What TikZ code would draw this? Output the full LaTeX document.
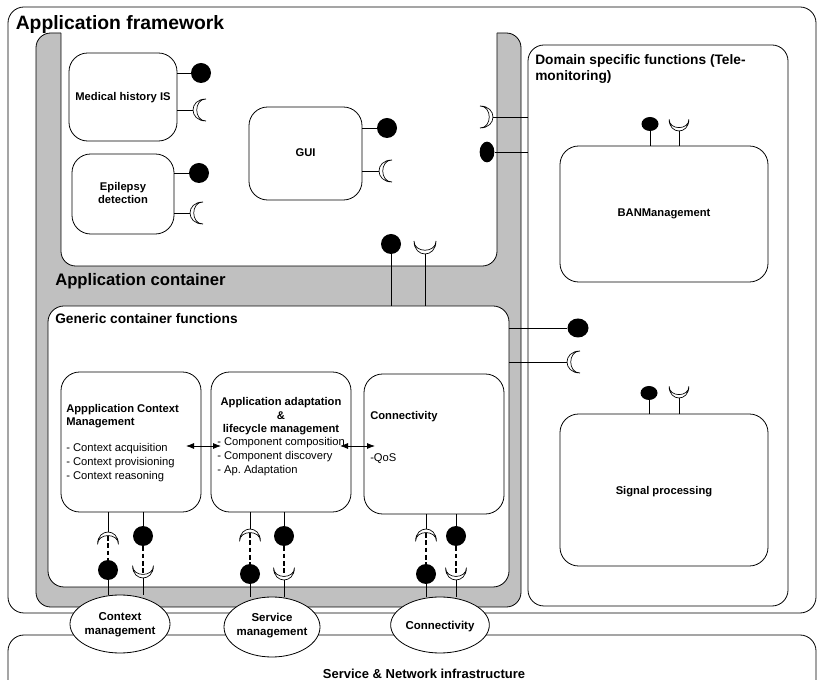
\documentclass[tikz,border=0pt]{standalone}
\usepackage{fontspec}
\setmainfont{Liberation Sans}
\usetikzlibrary{shapes.geometric,fit,arrows.meta}
\definecolor{contgray}{RGB}{192,192,192}
\tikzset{
  fwframe/.style={draw=black, line width=0.6pt, rounded corners=12pt},
  compbox/.style={draw=black, fill=white, line width=0.6pt, rounded corners=14pt, inner sep=0pt},
  ballnode/.style={circle, fill=black, inner sep=0pt, minimum size=15pt},
  ovalball/.style={ellipse, fill=black, inner sep=0pt},
  ifacenode/.style={ellipse, draw=black, fill=white, line width=0.6pt, inner sep=0pt},
  linkline/.style={draw=black, line width=0.6pt},
  dashlink/.style={draw=black, line width=1pt, dash pattern=on 3.5pt off 2pt},
  titletext/.style={anchor=base west, inner sep=0pt, font=\fontsize{14.5pt}{17pt}\selectfont\bfseries},
  subtitletext/.style={anchor=base west, inner sep=0pt, align=left, font=\fontsize{10.3pt}{12pt}\selectfont\bfseries},
  boldtext/.style={inner sep=0pt, align=left, font=\fontsize{8.4pt}{10.2pt}\selectfont\bfseries},
  centertext/.style={anchor=base, inner sep=0pt, align=center, font=\fontsize{8.4pt}{10.2pt}\selectfont\bfseries},
  ifacetext/.style={anchor=base, inner sep=0pt, align=center, font=\fontsize{8.6pt}{10.5pt}\selectfont\bfseries},
  plaintext/.style={inner sep=0pt, align=left, font=\fontsize{8.4pt}{10.5pt}\selectfont},
  twoway/.style={line width=0.6pt, {Latex[length=6pt,width=4.5pt]}-{Latex[length=6pt,width=4.5pt]}},
  sockpic/.pic={\path[draw=black, fill=white, line width=0.5pt] (13,-11) .. controls (-4.3,-11) and (-4.3,11) .. (13,11) .. controls (0.67,11) and (0.67,-11) .. (13,-11) -- cycle;},
}
\begin{document}
\begin{tikzpicture}[x=0.75pt, y=-0.75pt]
\useasboundingbox (0,0) rectangle (818,680);
\fill[white] (0,0) rectangle (818,680);
% frames
\draw[fwframe] (8,7) rectangle (816,613);
\begin{scope}
\clip (0,0) rectangle (818,680);
\draw[fwframe, fill=white] (8,635) rectangle (816,730);
\end{scope}
% application container (gray)
\path[fill=contgray, draw=black, line width=0.6pt, rounded corners=11pt] (36,33) rectangle (521,607);
\fill[white] (61,30) rectangle (497,40);
\path[fill=white, draw=black, line width=0.6pt, rounded corners=11pt] (61,33) -- (61,266) -- (497,266) -- (497,33);
% domain box and generic box
\node[fwframe, fill=white, inner sep=0pt, fit={(528,45) (788,606)}] (dom) {};
\node[fwframe, fill=white, inner sep=0pt, fit={(48,306) (509,587)}] (gen) {};
% titles
\node[titletext] (tfw) at (15.5,30) {Application framework};
\node[titletext, font=\fontsize{12.5pt}{15pt}\selectfont\bfseries] (tac) at (55,286) {Application container};
\node[subtitletext] (tgc) at (55,324) {Generic container functions};
\node[subtitletext] (tds) at (535,81) {Domain specific functions (Tele-\\monitoring)};
% components
\node[compbox, fit={(69,53) (177,141)}] (med) {};
\node[compbox, fit={(72,154) (174,234)}] (epi) {};
\node[compbox, fit={(249,107) (362,200)}] (gui) {};
\node[compbox, fit={(560,146) (768,282)}] (ban) {};
\node[compbox, fit={(560,414) (768,566)}] (sig) {};
\node[compbox, fit={(61,372) (201,512)}] (acm) {};
\node[compbox, fit={(211,372) (351,512)}] (aad) {};
\node[compbox, fit={(364,374) (504,514)}] (cnb) {};
\node[centertext] (medt) at (123,101) {Medical history IS};
\node[centertext] (epit) at (123,204) {Epilepsy\\detection};
\node[centertext] (guit) at (305.5,157) {GUI};
\node[centertext] (bant) at (664,217) {BANManagement};
\node[centertext] (sigt) at (664,495) {Signal processing};
% texts in generic functions
\node[boldtext, anchor=base west] (acmt) at (66,426) {Appplication Context\\Management};
\node[plaintext, anchor=base west] (acml) at (66,480) {- Context acquisition\\- Context provisioning\\- Context reasoning};
\node[centertext] (aadt) at (281,433) {Application adaptation\\\&\\lifecycle management};
\node[plaintext, anchor=base west] (aadl) at (217,474) {- Component composition\\- Component discovery\\- Ap.\ Adaptation};
\node[boldtext, anchor=base west] (cnt) at (370,420) {Connectivity};
\node[plaintext, anchor=base west] (cnl) at (370,462) {-QoS};
% arrows
\coordinate (a1l) at (186,446); \coordinate (a1r) at (221,446);
\coordinate (a2l) at (340,446); \coordinate (a2r) at (375,446);
\draw[twoway] (a1l) -- (a1r);
\draw[twoway] (a2l) -- (a2r);
% interfaces of application components
\node[ballnode] (bmed) at (201,73) {};
\coordinate (smed) at (193,110);
\draw[linkline] (med.east |- bmed) -- (bmed);
\draw[linkline] (med.east |- smed) -- (smed);
\pic at (smed) {sockpic};
\node[ballnode] (bepi) at (199,173) {};
\coordinate (sepi) at (190,213);
\draw[linkline] (epi.east |- bepi) -- (bepi);
\draw[linkline] (epi.east |- sepi) -- (sepi);
\pic at (sepi) {sockpic};
\node[ballnode] (bgui) at (387,128) {};
\coordinate (sgui) at (379,171);
\draw[linkline] (gui.east |- bgui) -- (bgui);
\draw[linkline] (gui.east |- sgui) -- (sgui);
\pic at (sgui) {sockpic};
% framework to domain
\coordinate (sfw) at (493,117);
\node[ovalball, minimum width=11pt, minimum height=15.5pt] (bfw) at (487,152) {};
\draw[linkline] (sfw) -- (dom.west |- sfw);
\draw[linkline] (bfw) -- (dom.west |- bfw);
\pic[rotate=180] at (sfw) {sockpic};
% framework to generic container
\node[ballnode] (bac) at (391,244) {};
\coordinate (sac) at (425,254);
\draw[linkline] (bac) -- (bac |- gen.north);
\draw[linkline] (sac) -- (sac |- gen.north);
\pic[rotate=90] at (sac) {sockpic};
% generic container to the right
\node[ovalball, minimum width=15.75pt, minimum height=14.25pt] (bgen) at (578,328) {};
\coordinate (sgen) at (567,362);
\draw[linkline] (gen.east |- bgen) -- (bgen);
\draw[linkline] (gen.east |- sgen) -- (sgen);
\pic at (sgen) {sockpic};
% BAN and signal interfaces
\node[ovalball, minimum width=12.75pt, minimum height=10.5pt] (bban) at (650,124) {};
\coordinate (sban) at (679,131);
\draw[linkline] (bban) -- (bban |- ban.north);
\draw[linkline] (sban) -- (sban |- ban.north);
\pic[rotate=90, scale=0.9] at (sban) {sockpic};
\node[ovalball, minimum width=12.75pt, minimum height=10.5pt] (bsig) at (649,393) {};
\coordinate (ssig) at (679,398);
\draw[linkline] (bsig) -- (bsig |- sig.north);
\draw[linkline] (ssig) -- (ssig |- sig.north);
\pic[rotate=90, scale=0.9] at (ssig) {sockpic};
% bottom stubs: context
\coordinate (sc1) at (108,532); \node[ballnode] (bc1) at (108,570) {};
\node[ballnode] (bc2) at (143,536) {}; \coordinate (sc2) at (143,578);
\draw[linkline] (acm.south -| sc1) -- (sc1);
\draw[dashlink] ([yshift=-3pt]sc1) -- (bc1);
\draw[linkline] (acm.south -| bc2) -- (bc2);
\draw[dashlink] (bc2) -- ([yshift=2pt]sc2);
\pic[rotate=-90, scale=0.95] at (sc1) {sockpic};
\pic[rotate=90, scale=0.95] at (sc2) {sockpic};
% bottom stubs: service
\coordinate (sc3) at (250,529); \node[ballnode] (bc3) at (250,574) {};
\node[ballnode] (bc4) at (284,536) {}; \coordinate (sc4) at (284,580);
\draw[linkline] (aad.south -| sc3) -- (sc3);
\draw[dashlink] ([yshift=-3pt]sc3) -- (bc3);
\draw[linkline] (aad.south -| bc4) -- (bc4);
\draw[dashlink] (bc4) -- ([yshift=2pt]sc4);
\pic[rotate=-90, scale=0.95] at (sc3) {sockpic};
\pic[rotate=90, scale=0.95] at (sc4) {sockpic};
% bottom stubs: connectivity
\coordinate (sc5) at (426,529); \node[ballnode] (bc5) at (426,574) {};
\node[ballnode] (bc6) at (456,536) {}; \coordinate (sc6) at (456,580);
\draw[linkline] (cnb.south -| sc5) -- (sc5);
\draw[dashlink] ([yshift=-3pt]sc5) -- (bc5);
\draw[linkline] (cnb.south -| bc6) -- (bc6);
\draw[dashlink] (bc6) -- ([yshift=2pt]sc6);
\pic[rotate=-90, scale=0.95] at (sc5) {sockpic};
\pic[rotate=90, scale=0.95] at (sc6) {sockpic};
% infrastructure interfaces
\node[ifacenode, minimum width=75pt, minimum height=43.5pt] (ctxm) at (120,624) {};
\node[ifacenode, minimum width=72pt, minimum height=45pt] (svcm) at (272,627) {};
\node[ifacenode, minimum width=74pt, minimum height=42pt] (conm) at (440,625) {};
\node[ifacetext] (ctxt) at (120,635) {Context\\management};
\node[ifacetext] (svct) at (272,636) {Service\\management};
\node[ifacetext] (cont) at (440,630) {Connectivity};
\draw[linkline] (bc1) -- (bc1 |- ctxm.north);
\draw[linkline] (sc2) -- (sc2 |- ctxm.north);
\draw[linkline] (bc3) -- (bc3 |- svcm.north);
\draw[linkline] (sc4) -- (sc4 |- svcm.north);
\draw[linkline] (bc5) -- (bc5 |- conm.north);
\draw[linkline] (sc6) -- (sc6 |- conm.north);
\node[anchor=base, inner sep=0pt, font=\fontsize{9.75pt}{12pt}\selectfont\bfseries] (infra) at (424,678.5) {Service \& Network infrastructure};
\end{tikzpicture}
\end{document}
